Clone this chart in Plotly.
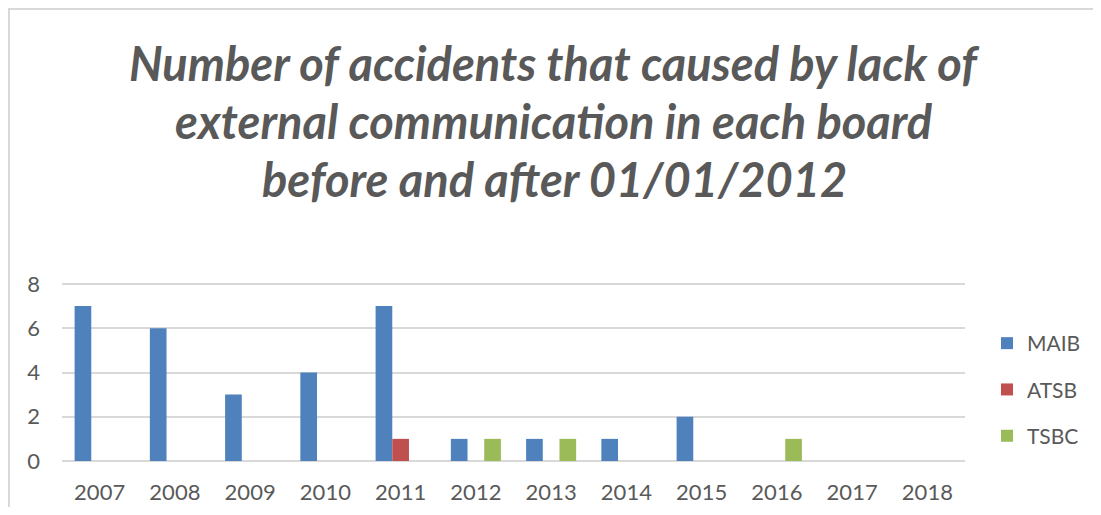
import plotly.graph_objects as go

years = ["2007", "2008", "2009", "2010", "2011", "2012", "2013", "2014", "2015", "2016", "2017", "2018"]
maib = [7, 6, 3, 4, 7, 1, 1, 1, 2, 0, 0, 0]
atsb = [0, 0, 0, 0, 1, 0, 0, 0, 0, 0, 0, 0]
tsbc = [0, 0, 0, 0, 0, 1, 1, 0, 0, 1, 0, 0]
series_names = ["MAIB", "ATSB", "TSBC"]
colors = ["#4F81BD", "#C0504D", "#9BBB59"]
title_lines = [
    "Number of accidents that caused by lack of",
    "external communication in each board",
    "before and after 01/01/2012",
]

# page has an 8px body margin; figure sized to fit the 1101x515 window
W, H = 1085, 499
L, R, T, B = 54, 128, 274, 46
pw, ph = W - L - R, H - T - B

fig = go.Figure()
for name, vals, c in zip(series_names, [maib, atsb, tsbc], colors):
    fig.add_trace(go.Bar(x=years, y=vals, name=name, marker_color=c,
                         marker_line_width=0, legendgroup=name))

FONT = "Lato"
TXT = "#595959"

def px_x(px):
    return (px - L) / pw

def px_y(py):
    return (H - B - py) / ph

annotations = []
for line, yc in zip(title_lines, [55, 113, 171]):
    annotations.append(dict(text=f"<b><i>{line}</i></b>", x=px_x(546), y=px_y(yc),
                            xref="paper", yref="paper", showarrow=False,
                            xanchor="center", yanchor="middle",
                            font=dict(family=FONT, size=47, color=TXT)))

shapes = [
    dict(type="line", xref="paper", yref="paper", x0=px_x(1), x1=px_x(W + 20),
         y0=px_y(1), y1=px_y(1), line=dict(color="#D9D9D9", width=2)),
    dict(type="line", xref="paper", yref="paper", x0=px_x(1), x1=px_x(1),
         y0=px_y(0), y1=px_y(H + 20), line=dict(color="#D9D9D9", width=2)),
]

fig.update_layout(
    width=W, height=H,
    margin=dict(l=L, r=R, t=T, b=B, autoexpand=False),
    plot_bgcolor="white", paper_bgcolor="white",
    barmode="group", bargap=0.335, bargroupgap=0,
    font=dict(family=FONT, color=TXT),
    annotations=annotations, shapes=shapes,
    showlegend=True,
    legend=dict(x=px_x(979), y=px_y(315), xanchor="left", yanchor="top",
                font=dict(family=FONT, size=21, color=TXT),
                traceorder="grouped", tracegroupgap=16,
                itemwidth=30, bgcolor="rgba(0,0,0,0)"),
    xaxis=dict(type="category", range=[-0.5, 11.5], showgrid=False,
               showline=False, ticks="", tickfont=dict(size=22, color=TXT),
               ticklabelstandoff=16),
    yaxis=dict(range=[0, 8.09], tickvals=[0, 2, 4, 6, 8], showgrid=True,
               gridcolor="#D9D9D9", gridwidth=1.5, zeroline=True,
               zerolinecolor="#D9D9D9", zerolinewidth=1.5, showline=False,
               ticks="", tickfont=dict(size=22, color=TXT), ticklabelstandoff=21),
)

fig.write_html("out.html")
